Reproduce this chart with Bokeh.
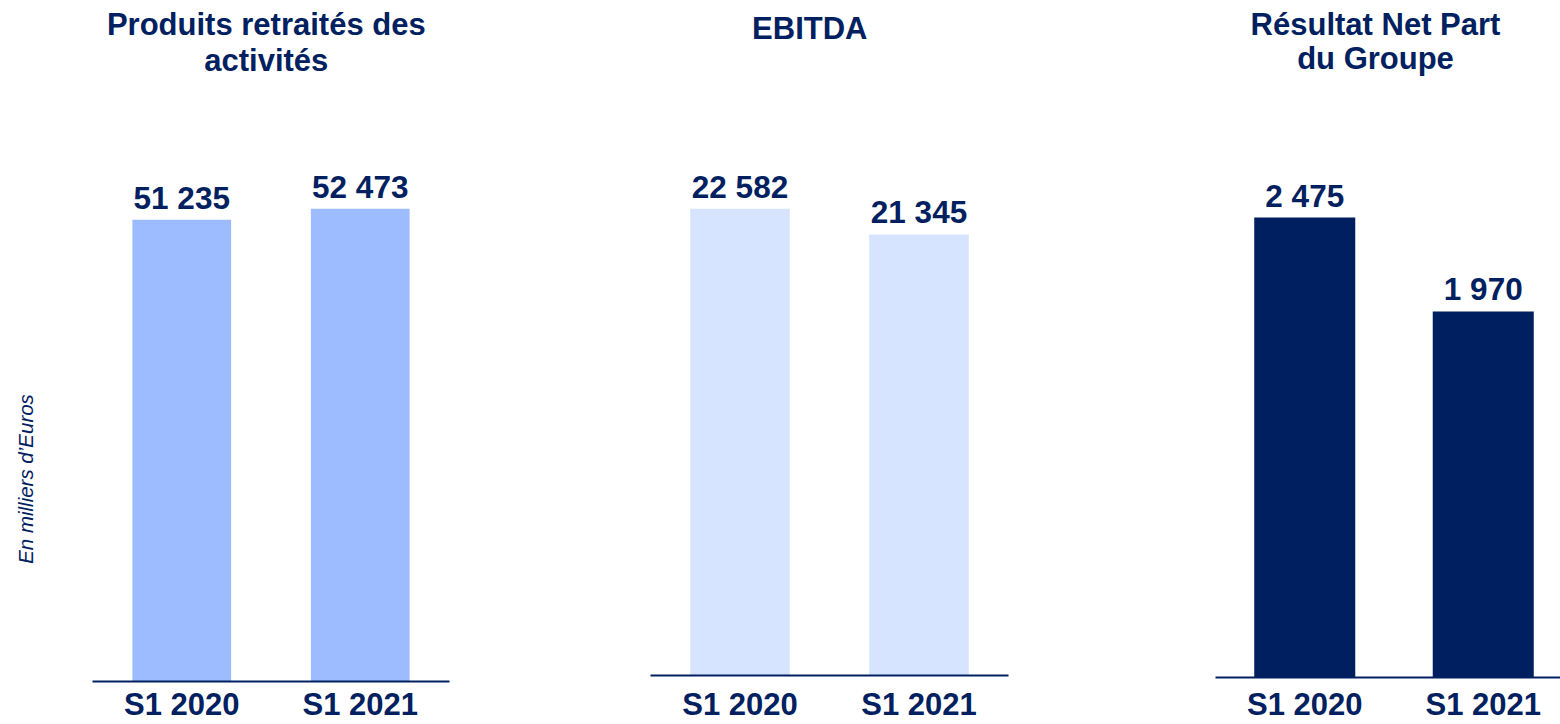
from bokeh.plotting import figure
from bokeh.layouts import row
from bokeh.models import Range1d, Label, ColumnDataSource, FixedTicker
from bokeh.embed import file_html
from bokeh.resources import INLINE
from bokeh.core.properties import value

# ---- data ----
categories = ["S1 2020", "S1 2021"]
produits = [51235, 52473]
ebitda = [22582, 21345]
resultat = [2475, 1970]
titles = [["Produits retraités des", "activités"], ["EBITDA"], ["Résultat Net Part", "du Groupe"]]
unit_label = "En milliers d’Euros"

NAVY = "#002060"
FONT = "Liberation Sans"
H = 724


def fmt(v):
    return f"{v:,}".replace(",", " ")


def no_align(p):
    if "frame_align" in p.properties():
        p.frame_align = False


def panel(vals, color, title_lines, *, width, left, right, bottom, standoff, x_end, y_end,
          bar_w, title_x, title_ys):
    p = figure(width=width, height=H,
               x_range=Range1d(0, x_end), y_range=Range1d(0, y_end),
               output_backend="svg", toolbar_location=None,
               y_axis_location=None,
               min_border_left=left, min_border_right=right,
               min_border_top=0, min_border_bottom=bottom)
    no_align(p)
    p.outline_line_color = None
    p.grid.visible = False
    p.title.visible = False

    xs = [i + 0.5 for i in range(len(categories))]
    src = ColumnDataSource(dict(
        x=xs,
        v=vals,
        lab=[fmt(v) for v in vals],
    ))
    p.vbar(x="x", top="v", bottom=0, width=bar_w, source=src,
           fill_color=color, line_color=None)
    p.text(x="x", y="v", text="lab", source=src,
           text_font=value(FONT), text_font_size="31.5px", text_font_style="bold",
           text_color=NAVY, text_align="center", text_baseline="middle",
           y_offset=-22)

    ax = p.xaxis[0]
    ax.ticker = FixedTicker(ticks=xs)
    ax.major_label_overrides = {x: c for x, c in zip(xs, categories)}
    ax.axis_line_color = NAVY
    ax.axis_line_width = 2
    ax.major_tick_line_color = None
    ax.minor_tick_line_color = None
    ax.major_label_standoff = standoff
    ax.major_label_text_font = FONT
    ax.major_label_text_font_size = "31px"
    ax.major_label_text_font_style = "bold"
    ax.major_label_text_color = NAVY

    for line, ty in zip(title_lines, title_ys):
        p.add_layout(Label(x=title_x, y=ty, x_units="screen", y_units="screen",
                           text=line, text_font=FONT, text_font_size="31px",
                           text_font_style="bold", text_color=NAVY,
                           text_align="center", text_baseline="middle"))
    return p


# narrow strip carrying the unit label
p0 = figure(width=60, height=H, x_range=Range1d(0, 60), y_range=Range1d(0, H),
            output_backend="svg", toolbar_location=None,
            x_axis_location=None, y_axis_location=None, min_border=0)
no_align(p0)
p0.outline_line_color = None
p0.grid.visible = False
p0.title.visible = False
p0.add_layout(Label(x=25.4, y=245.5, x_units="screen", y_units="screen",
                    text=unit_label, angle=1.5707963, text_font=FONT,
                    text_font_size="20.5px", text_font_style="italic",
                    text_color=NAVY, text_align="center", text_baseline="middle"))

p1 = panel(produits, "#9DBBFF", titles[0], width=540, left=32, right=151, bottom=43,
           standoff=-1, x_end=2.0, y_end=75583, bar_w=0.553,
           title_x=173.8, title_ys=[657.2, 621.0])

p2 = panel(ebitda, "#D6E4FF", titles[1], width=568, left=50, right=160, bottom=49,
           standoff=5, x_end=2.0, y_end=32665, bar_w=0.556,
           title_x=159.3, title_ys=[647.2])

p3 = panel(resultat, "#001F60", titles[2], width=392, left=47, right=0, bottom=47,
           standoff=3, x_end=345 / 178.5, y_end=3643, bar_w=0.566,
           title_x=160, title_ys=[653.3, 618.7])

layout = row(p0, p1, p2, p3, spacing=0)

with open("out.html", "w") as f:
    f.write(file_html(layout, INLINE))
